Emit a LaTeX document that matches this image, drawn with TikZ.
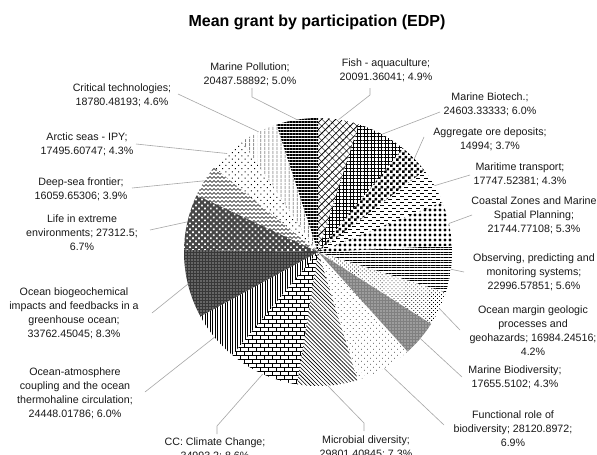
\documentclass[tikz,border=0pt]{standalone}
\usepackage{fontspec}
\setmainfont{Liberation Sans}
\usetikzlibrary{patterns,patterns.meta}
\definecolor{leadgray}{HTML}{A6A6A6}
\pgfdeclarepatternformonly{mychecker}{\pgfqpoint{0pt}{0pt}}{\pgfqpoint{6pt}{6pt}}{\pgfqpoint{6pt}{6pt}}{%
  \pgfpathrectangle{\pgfqpoint{0pt}{0pt}}{\pgfqpoint{3pt}{3pt}}%
  \pgfpathrectangle{\pgfqpoint{3pt}{3pt}}{\pgfqpoint{3pt}{3pt}}\pgfusepath{fill}}
\pgfdeclarepatternformonly{myhdash}{\pgfqpoint{-1pt}{-1pt}}{\pgfqpoint{9pt}{7pt}}{\pgfqpoint{8pt}{6pt}}{%
  \pgfsetlinewidth{0.8pt}%
  \pgfpathmoveto{\pgfqpoint{0pt}{1pt}}\pgfpathlineto{\pgfqpoint{4pt}{1pt}}%
  \pgfpathmoveto{\pgfqpoint{4pt}{4pt}}\pgfpathlineto{\pgfqpoint{8pt}{4pt}}\pgfusepath{stroke}}
\pgfdeclarepatternformonly{mybricks}{\pgfqpoint{-1pt}{-1pt}}{\pgfqpoint{9pt}{9pt}}{\pgfqpoint{8pt}{8pt}}{%
  \pgfsetlinewidth{0.8pt}%
  \pgfpathmoveto{\pgfqpoint{0pt}{0pt}}\pgfpathlineto{\pgfqpoint{8pt}{0pt}}%
  \pgfpathmoveto{\pgfqpoint{0pt}{4pt}}\pgfpathlineto{\pgfqpoint{8pt}{4pt}}%
  \pgfpathmoveto{\pgfqpoint{0pt}{0pt}}\pgfpathlineto{\pgfqpoint{0pt}{4pt}}%
  \pgfpathmoveto{\pgfqpoint{4pt}{4pt}}\pgfpathlineto{\pgfqpoint{4pt}{8pt}}\pgfusepath{stroke}}
\pgfdeclarepatternformonly{myzigzag}{\pgfqpoint{-1pt}{-1pt}}{\pgfqpoint{5pt}{5pt}}{\pgfqpoint{4pt}{4pt}}{%
  \pgfsetlinewidth{0.6pt}%
  \pgfpathmoveto{\pgfqpoint{0pt}{0.5pt}}\pgfpathlineto{\pgfqpoint{2pt}{2.5pt}}\pgfpathlineto{\pgfqpoint{4pt}{0.5pt}}\pgfusepath{stroke}}
\newcommand\pieslice[3]{\path[#3] (C) -- ++({#1-90}:134) arc[start angle={#1-90}, end angle={#2-90}, radius=134] -- cycle;}
\begin{document}
\begin{tikzpicture}[x=1pt,y=-1pt,
  lbl/.style={font=\fontsize{10.67}{14}\selectfont, align=center, inner sep=0pt, text=black!90},
  ttl/.style={font=\bfseries\fontsize{16}{19}\selectfont, inner sep=0pt},
  leader/.style={draw=leadgray, line width=0.6pt},
  sfish/.style={pattern={Lines[angle=45,distance=5pt,line width=0.8pt]}, postaction={pattern={Lines[angle=-45,distance=5pt,line width=0.3pt]}}},
  sbio/.style={pattern={Hatch[angle=0,distance=3.5pt,line width=0.7pt]}},
  sagg/.style={pattern=mychecker},
  smar/.style={pattern=myhdash},
  scoast/.style={pattern={Dots[angle=0,distance=5pt,radius=1.7pt]}},
  sobs/.style={pattern={Lines[angle=0,distance=2.6pt,line width=0.9pt]}},
  smarg/.style={pattern={Dots[angle=45,distance=2.8pt,radius=0.55pt]}},
  smbio/.style={fill=black!50, postaction={pattern={Dots[angle=0,distance=3pt,radius=0.6pt]}, pattern color=white}},
  sfunc/.style={pattern={Dots[angle=45,distance=4pt,radius=0.45pt]}},
  smic/.style={pattern={Lines[angle=-45,distance=2.8pt,line width=0.6pt]}},
  scc/.style={pattern=mybricks},
  soatm/.style={pattern={Lines[angle=90,distance=2.5pt,line width=0.9pt]}},
  sobgc/.style={fill=black!78, postaction={pattern={Dots[angle=0,distance=3pt,radius=0.65pt]}, pattern color=white}},
  slife/.style={fill=black!72, postaction={pattern={Dots[angle=45,distance=4.2pt,radius=1.2pt]}, pattern color=white}},
  sdeep/.style={pattern=myzigzag},
  sarc/.style={pattern={Dots[angle=45,distance=4.5pt,radius=0.7pt]}},
  scrit/.style={pattern={Lines[angle=90,distance=4pt,line width=0.9pt]}},
  spoll/.style={pattern={Lines[angle=0,distance=3pt,line width=1.1pt]}}]
\fill[white, use as bounding box] (0,0) rectangle (597,455);
\coordinate (C) at (318,252);
% slices, clockwise from 12 o'clock
\pieslice{0}{17.68}{sfish}
\pieslice{17.68}{39.33}{sbio}
\pieslice{39.33}{52.53}{sagg}
\pieslice{52.53}{68.15}{smar}
\pieslice{68.15}{87.28}{scoast}
\pieslice{87.28}{107.52}{sobs}
\pieslice{107.52}{122.47}{smarg}
\pieslice{122.47}{138.00}{smbio}
\pieslice{138.00}{162.75}{sfunc}
\pieslice{162.75}{188.98}{smic}
\pieslice{188.98}{219.77}{scc}
\pieslice{219.77}{241.29}{soatm}
\pieslice{241.29}{271.00}{sobgc}
\pieslice{271.00}{295.03}{slife}
\pieslice{295.03}{309.17}{sdeep}
\pieslice{309.17}{325.44}{sarc}
\pieslice{325.44}{341.97}{scrit}
\pieslice{341.97}{360}{spoll}
% rim points
\path (C) ++({8.84-90}:134) coordinate (rfish);
\path (C) ++({28.505-90}:134) coordinate (rbio);
\path (C) ++({45.93-90}:134) coordinate (ragg);
\path (C) ++({60.34-90}:134) coordinate (rmar);
\path (C) ++({77.715-90}:134) coordinate (rcoast);
\path (C) ++({97.40-90}:134) coordinate (robs);
\path (C) ++({114.995-90}:134) coordinate (rmarg);
\path (C) ++({130.235-90}:134) coordinate (rmbio);
\path (C) ++({150.375-90}:134) coordinate (rfunc);
\path (C) ++({175.865-90}:134) coordinate (rmic);
\path (C) ++({204.375-90}:134) coordinate (rcc);
\path (C) ++({230.53-90}:134) coordinate (roatm);
\path (C) ++({256.145-90}:134) coordinate (robgc);
\path (C) ++({283.015-90}:134) coordinate (rlife);
\path (C) ++({302.10-90}:134) coordinate (rdeep);
\path (C) ++({317.305-90}:134) coordinate (rarc);
\path (C) ++({333.705-90}:134) coordinate (rcrit);
\path (C) ++({350.985-90}:134) coordinate (rpoll);
% title
\node[ttl] (title) at (317,22) {Mean grant by participation (EDP)};
% labels
\node[lbl] (pollL) at (250,74) {Marine Pollution;\\20487.58892; 5.0\%};
\node[lbl] (fishL) at (386,70) {Fish - aquaculture;\\20091.36041; 4.9\%};
\node[lbl] (bioL) at (490,104) {Marine Biotech.;\\24603.33333; 6.0\%};
\node[lbl] (aggL) at (490,139) {Aggregate ore deposits;\\14994; 3.7\%};
\node[lbl] (marL) at (520,174) {Maritime transport;\\17747.52381; 4.3\%};
\node[lbl] (coastL) at (534,215) {Coastal Zones and Marine\\Spatial Planning;\\21744.77108; 5.3\%};
\node[lbl] (obsL) at (534,272) {Observing, predicting and\\monitoring systems;\\22996.57851; 5.6\%};
\node[lbl] (margL) at (533,331) {Ocean margin geologic\\processes and\\geohazards; 16984.24516;\\4.2\%};
\node[lbl] (mbioL) at (515,377) {Marine Biodiversity;\\17655.5102; 4.3\%};
\node[lbl] (funcL) at (513,429) {Functional role of\\biodiversity; 28120.8972;\\6.9\%};
\node[lbl] (micL) at (366,447) {Microbial diversity;\\29801.40845; 7.3\%};
\node[lbl] (ccL) at (215,449) {CC: Climate Change;\\34993.2; 8.6\%};
\node[lbl] (oatmL) at (75,393) {Ocean-atmosphere\\coupling and the ocean\\thermohaline circulation;\\24448.01786; 6.0\%};
\node[lbl] (obgcL) at (74,313) {Ocean biogeochemical\\impacts and feedbacks in a\\greenhouse ocean;\\33762.45045; 8.3\%};
\node[lbl] (lifeL) at (82,233) {Life in extreme\\environments; 27312.5;\\6.7\%};
\node[lbl] (deepL) at (81,189) {Deep-sea frontier;\\16059.65306; 3.9\%};
\node[lbl] (arcL) at (87,144) {Arctic seas - IPY;\\17495.60747; 4.3\%};
\node[lbl] (critL) at (122,95) {Critical technologies;\\18780.48193; 4.6\%};
% leader start / bend points
\coordinate (pollA) at (252,88); \coordinate (pollB) at (252,97);
\coordinate (fishA) at (370,88); \coordinate (fishB) at (370,95);
\coordinate (bioA) at (440,112);
\coordinate (aggA) at (424,137);
\coordinate (marA) at (470,175);
\coordinate (coastA) at (472,215);
\coordinate (obsA) at (464,272);
\coordinate (margA) at (460,330);
\coordinate (mbioA) at (462,377);
\coordinate (funcA) at (444,425);
\coordinate (micA) at (364,431); \coordinate (micB) at (364,423);
\coordinate (ccA) at (217,434); \coordinate (ccB) at (217,426);
\coordinate (oatmA) at (145,392);
\coordinate (obgcA) at (152,313);
\coordinate (lifeA) at (150,230);
\coordinate (deepA) at (132,188);
\coordinate (arcA) at (136,144);
\coordinate (critA) at (178,94);
% leaders
\draw[leader] (pollA) -- (pollB) -- (rpoll);
\draw[leader] (fishA) -- (fishB) -- (rfish);
\draw[leader] (bioA) -- (rbio);
\draw[leader] (aggA) -- (ragg);
\draw[leader] (marA) -- (rmar);
\draw[leader] (coastA) -- (rcoast);
\draw[leader] (obsA) -- (robs);
\draw[leader] (margA) -- (rmarg);
\draw[leader] (mbioA) -- (rmbio);
\draw[leader] (funcA) -- (rfunc);
\draw[leader] (micA) -- (micB) -- (rmic);
\draw[leader] (ccA) -- (ccB) -- (rcc);
\draw[leader] (oatmA) -- (roatm);
\draw[leader] (obgcA) -- (robgc);
\draw[leader] (lifeA) -- (rlife);
\draw[leader] (deepA) -- (rdeep);
\draw[leader] (arcA) -- (rarc);
\draw[leader] (critA) -- (rcrit);
\end{tikzpicture}
\end{document}
